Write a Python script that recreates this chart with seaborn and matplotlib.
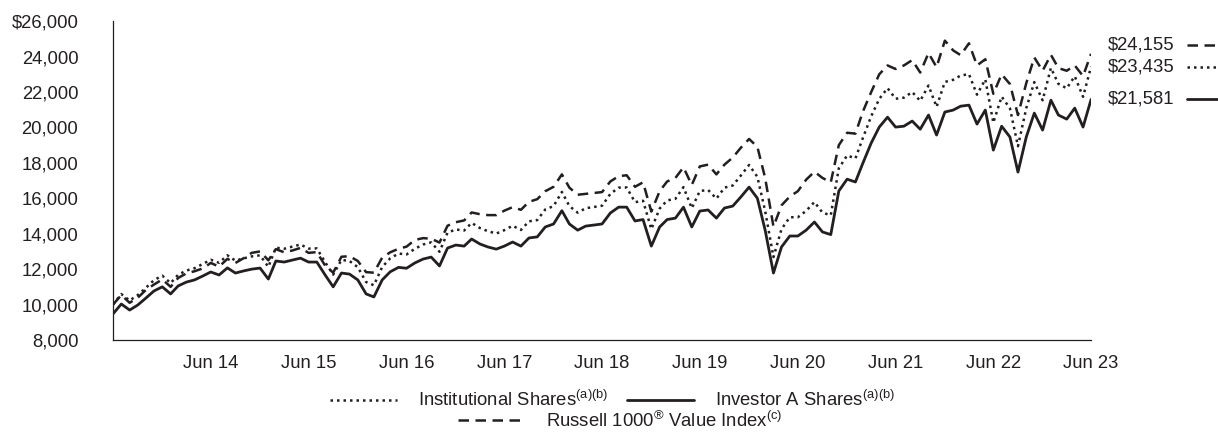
import pandas as pd
import matplotlib.pyplot as plt
import seaborn as sns

# Growth of $10,000, monthly, Jun 2013 - Jun 2023
months = pd.date_range('2013-06-30', periods=121, freq='ME')

investor_a = [
  9475, 10030, 9690, 9970, 10370, 10770, 11000, 10600, 11050, 11270, 11390, 11610,
  11840, 11670, 12070, 11780, 11900, 12000, 12060, 11440, 12460, 12400, 12510, 12620,
  12400, 12400, 11670, 11000, 11780, 11720, 11390, 10600, 10430, 11390, 11850, 12100,
  12050, 12350, 12570, 12680, 12180, 13190, 13360, 13300, 13700, 13420, 13250, 13130,
  13300, 13530, 13300, 13760, 13820, 14380, 14550, 15300, 14550, 14200, 14430, 14490,
  14550, 15170, 15500, 15500, 14720, 14800, 13300, 14380, 14800, 14880, 15500, 14380,
  15280, 15340, 14880, 15450, 15560, 16070, 16630, 16000, 14200, 11780, 13250, 13870,
  13870, 14200, 14660, 14100, 13950, 16410, 17080, 16920, 17990, 19120, 20020, 20580,
  20020, 20070, 20360, 19900, 20700, 19570, 20870, 20980, 21200, 21260, 20190, 20980,
  18720, 20070, 19460, 17480, 19460, 20810, 19850, 21540, 20700, 20470, 21090, 20020,
  21581]

institutional = [
  10000, 10590, 10230, 10530, 10950, 11380, 11630, 11210, 11680, 11920, 12050, 12290,
  12530, 12360, 12780, 12480, 12610, 12720, 12780, 12130, 13210, 13150, 13270, 13390,
  13160, 13170, 12390, 11690, 12520, 12460, 12110, 11270, 11090, 12120, 12610, 12880,
  12830, 13150, 13390, 13510, 12980, 14060, 14240, 14180, 14610, 14320, 14140, 14010,
  14200, 14450, 14210, 14700, 14770, 15370, 15560, 16360, 15560, 15190, 15440, 15510,
  15580, 16250, 16600, 16610, 15780, 15860, 14260, 15420, 15880, 15970, 16630, 15440,
  16410, 16470, 15980, 16600, 16720, 17280, 17880, 17210, 15280, 12680, 14260, 14930,
  14930, 15290, 15790, 15190, 15040, 17690, 18420, 18250, 19410, 20630, 21610, 22220,
  21620, 21680, 22000, 21500, 22370, 21160, 22570, 22690, 22930, 23010, 21850, 22710,
  20270, 21740, 21080, 18940, 21090, 22560, 21530, 23360, 22460, 22210, 22890, 21730,
  23435]

russell = [
  10000, 10540, 10100, 10380, 10830, 11130, 11420, 11000, 11500, 11760, 11880, 12040,
  12350, 12140, 12580, 12350, 12620, 12920, 13000, 12500, 13130, 12950, 13050, 13200,
  12920, 12960, 12200, 11800, 12700, 12730, 12460, 11830, 11800, 12650, 12950, 13150,
  13270, 13650, 13750, 13720, 13500, 14450, 14650, 14750, 15200, 15100, 15050, 15050,
  15300, 15500, 15350, 15800, 15950, 16400, 16650, 17350, 16600, 16200, 16250, 16300,
  16350, 16950, 17250, 17300, 16650, 16900, 15250, 16400, 16950, 17150, 17750, 16750,
  17800, 17900, 17350, 17900, 18300, 18850, 19350, 18900, 17150, 14400, 15600, 16100,
  16400, 17050, 17500, 17150, 16900, 19000, 19700, 19650, 20900, 22000, 23000, 23500,
  23300, 23500, 23800, 23100, 24200, 23400, 24900, 24350, 24080, 24750, 23500, 23850,
  21900, 23000, 22450, 20700, 22500, 23950, 23200, 24100, 23350, 23200, 23500, 22900,
  24155]

end_labels = ['$24,155', '$23,435', '$21,581']
end_label_y = [24650, 23435, 21581]   # dashed label nudged up like the original

ink = '#231f20'

sns.set_theme(style='white')
plt.rcParams['font.family'] = ['Liberation Sans', 'DejaVu Sans']
plt.rcParams['mathtext.fontset'] = 'custom'
plt.rcParams['mathtext.rm'] = 'Liberation Sans'
plt.rcParams['mathtext.it'] = 'Liberation Sans'
plt.rcParams['text.color'] = ink

df = pd.DataFrame({'date': months, 'inst': institutional,
                   'inv_a': investor_a, 'idx': russell})

fig = plt.figure(figsize=(12.18, 4.32), dpi=100)
ax = fig.add_axes([0.0928, 0.213, 0.803, 0.738])

dotted = (0, (1, 1.6))
dashed = (0, (4.2, 2.6))

sns.lineplot(data=df, x='date', y='idx', ax=ax, color=ink, lw=1.8, linestyle=dashed)
sns.lineplot(data=df, x='date', y='inst', ax=ax, color=ink, lw=1.8, linestyle=dotted)
sns.lineplot(data=df, x='date', y='inv_a', ax=ax, color=ink, lw=2.0)

ax.set_xlim(months[0], months[-1])
ax.set_ylim(8000, 26000)
yt = list(range(8000, 26001, 2000))
ax.set_yticks(yt)
ax.set_yticklabels([f'${v:,}' if v == 26000 else f'{v:,}' for v in yt])
jun = [d for d in months if d.month == 6][1:]
ax.set_xticks(jun)
ax.set_xticklabels([d.strftime('Jun %y') for d in jun])
ax.set_xlabel('')
ax.set_ylabel('')

for s in ['top', 'right']:
  ax.spines[s].set_visible(False)
for s in ['left', 'bottom']:
  ax.spines[s].set_color(ink)
  ax.spines[s].set_linewidth(0.9)
ax.tick_params(axis='both', direction='inout', length=7, width=0.9, colors=ink,
               labelsize=13.3, labelcolor=ink)
ax.tick_params(axis='y', pad=21.5)
ax.tick_params(axis='x', pad=7)

# ending values on the right
styles = [dashed, dotted, '-']
tr = ax.get_yaxis_transform()
for lab, yv, ls in zip(end_labels, end_label_y, styles):
  ax.text(1.0175, yv, lab, transform=tr, fontsize=13.3, va='center', ha='left', clip_on=False)
  ax.plot([1.098, 1.16], [yv, yv], transform=tr, color=ink, lw=1.8 if ls != '-' else 2.0,
          linestyle=ls, clip_on=False)

# legend, two rows
h_inst = plt.Line2D([], [], color=ink, lw=1.8, linestyle=dotted)
h_inv = plt.Line2D([], [], color=ink, lw=2.0)
h_idx = plt.Line2D([], [], color=ink, lw=1.8, linestyle=dashed)
common = dict(frameon=False, fontsize=13.3, handlelength=3.6, handletextpad=1.15,
              borderpad=0, borderaxespad=0)
fig.legend([h_inst, h_inv],
           [r'Institutional Shares$^{\mathrm{(a)(b)}}$', r'Investor A Shares$^{\mathrm{(a)(b)}}$'],
           loc='center', bbox_to_anchor=(0.503, 0.074), ncol=2, columnspacing=1.0, **common)
fig.legend([h_idx], [r'Russell 1000$^{\mathrm{®}}$ Value Index$^{\mathrm{(c)}}$'],
           loc='center', bbox_to_anchor=(0.509, 0.026), **common)

fig.savefig('out.png', dpi=100)
